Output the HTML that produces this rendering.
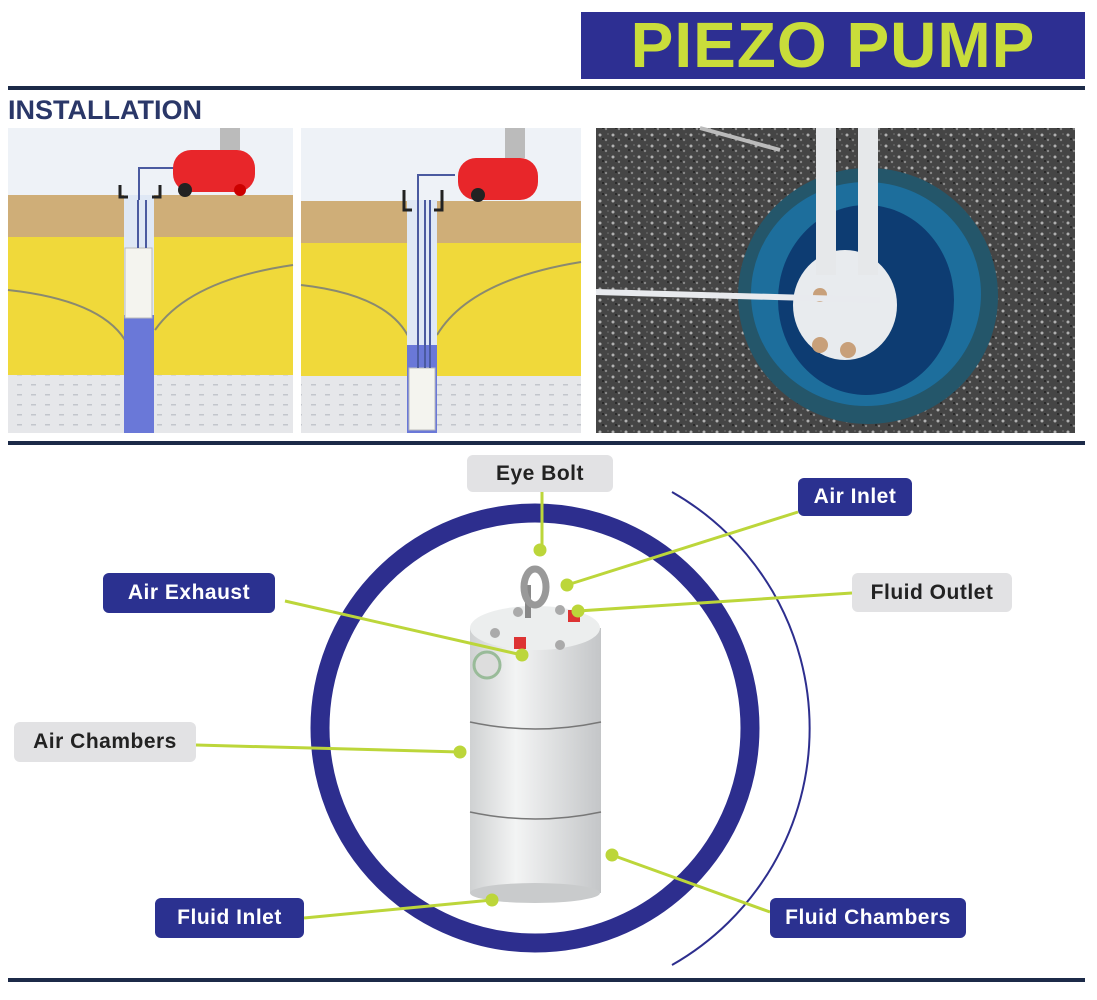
<!DOCTYPE html>
<html><head><meta charset="utf-8"><style>
body{margin:0;width:1097px;height:1000px;background:#fff;position:relative;overflow:hidden;font-family:"Liberation Sans",sans-serif}
.a{position:absolute}
.lbl{position:absolute;border-radius:6px;font-weight:bold;font-size:21px;display:flex;align-items:center;justify-content:center;letter-spacing:0.5px}
.b{background:#2b3190;color:#fff}
.g{background:#e2e2e4;color:#222}
</style></head><body>
<div class="a" style="left:581px;top:12px;width:504px;height:67px;background:#2d2f92;color:#c9dd3a;font-size:64px;font-weight:bold;line-height:67px;text-align:center;letter-spacing:1px">PIEZO PUMP</div>
<div class="a" style="left:8px;top:86px;width:1077px;height:4px;background:#1c2a48"></div>
<div class="a" style="left:8px;top:95px;font-size:27px;font-weight:bold;color:#2a3768">INSTALLATION</div>

<svg class="a" style="left:0;top:0" width="1097" height="1000">
<defs><pattern id="dots" width="14" height="10" patternUnits="userSpaceOnUse"><rect width="14" height="10" fill="#e6e7ea"/><rect x="3" y="4" width="5" height="1.5" fill="#c3c6cc"/></pattern>
<pattern id="sp" width="13" height="11" patternUnits="userSpaceOnUse"><rect width="13" height="11" fill="#454545"/><circle cx="2" cy="3" r="1.5" fill="#b0b0b0"/><circle cx="8" cy="8" r="1.2" fill="#888"/><circle cx="10" cy="2" r="0.9" fill="#6a6a6a"/><rect x="4" y="6" width="2" height="2" fill="#2a2a2a"/></pattern></defs>
<!-- panel 1 -->
<g>
<rect x="8" y="128" width="285" height="305" fill="#eef2f7"/>
<rect x="8" y="195" width="285" height="42" fill="#cfae78"/>
<rect x="8" y="237" width="285" height="138" fill="#f0d93a"/>
<rect x="8" y="375" width="285" height="58" fill="url(#dots)"/>
<path d="M8 290 Q100 300 125 340 M155 330 Q190 280 293 265" stroke="#8a8a70" stroke-width="2" fill="none"/>
<rect x="124" y="195" width="30" height="238" fill="#dfe8f5"/>
<rect x="124" y="315" width="30" height="118" fill="#6a78d8"/>
<rect x="125" y="248" width="27" height="70" fill="#f4f4ef" stroke="#bbb"/>
<path d="M138 248V200M146 248V200M139 200V168H175" stroke="#4a5aa0" stroke-width="2" fill="none"/>
<rect x="173" y="150" width="82" height="42" rx="18" fill="#e8262a"/>
<rect x="220" y="128" width="20" height="22" fill="#bbb"/>
<circle cx="185" cy="190" r="7" fill="#222"/><circle cx="240" cy="190" r="6" fill="#c00"/>
<path d="M120 185v12h8M160 185v12h-8" stroke="#222" stroke-width="3" fill="none"/>
</g>
<!-- panel 2 -->
<g>
<rect x="301" y="128" width="280" height="305" fill="#eef2f7"/>
<rect x="301" y="201" width="280" height="42" fill="#cfae78"/>
<rect x="301" y="243" width="280" height="133" fill="#f0d93a"/>
<rect x="301" y="376" width="280" height="57" fill="url(#dots)"/>
<path d="M301 285 Q390 295 410 340 M437 335 Q470 280 581 262" stroke="#8a8a70" stroke-width="2" fill="none"/>
<rect x="407" y="200" width="30" height="233" fill="#dfe8f5"/>
<rect x="407" y="345" width="30" height="88" fill="#6a78d8"/>
<rect x="409" y="368" width="26" height="62" fill="#f4f4ef" stroke="#bbb"/>
<path d="M418 368V175H455M425 368V200M430 368V200" stroke="#4a5aa0" stroke-width="2" fill="none"/>
<rect x="458" y="158" width="80" height="42" rx="18" fill="#e8262a"/>
<rect x="505" y="128" width="20" height="30" fill="#bbb"/>
<circle cx="478" cy="195" r="7" fill="#222"/>
<path d="M404 190v20h8M442 190v20h-8" stroke="#222" stroke-width="3" fill="none"/>
</g>
<!-- photo -->
<rect x="596" y="128" width="479" height="305" fill="url(#sp)"/>
<ellipse cx="868" cy="296" rx="130" ry="128" fill="#24566a"/>
<ellipse cx="866" cy="294" rx="115" ry="112" fill="#1d6e9c"/>
<ellipse cx="866" cy="300" rx="88" ry="95" fill="#0d3c72"/>
<ellipse cx="845" cy="305" rx="52" ry="55" fill="#e8ebee"/>
<circle cx="820" cy="295" r="7" fill="#c8a07a"/><circle cx="820" cy="345" r="8" fill="#c8a07a"/><circle cx="848" cy="350" r="8" fill="#c8a07a"/>
<path d="M826 128V275M868 128V275" stroke="#e6e8ea" stroke-width="20"/>
<path d="M780 150L700 128" stroke="#bbb" stroke-width="4"/>
<path d="M596 292L880 300" stroke="#e8eaee" stroke-width="6"/>
<!-- lines -->
<rect x="8" y="441" width="1077" height="4" fill="#1c2a48"/>
<rect x="8" y="978" width="1077" height="4" fill="#1c2a48"/>
<!-- rings -->
<circle cx="535" cy="728" r="215" fill="none" stroke="#2d2e8e" stroke-width="19"/>
<path d="M672 492 A272 272 0 0 1 672 965" fill="none" stroke="#2d2e8e" stroke-width="2"/>
<!-- pump -->
<defs><linearGradient id="cy" x1="0" x2="1"><stop offset="0" stop-color="#cfd1d2"/><stop offset="0.35" stop-color="#f3f4f4"/><stop offset="1" stop-color="#c4c6c8"/></linearGradient></defs>
<rect x="470" y="628" width="131" height="265" fill="url(#cy)"/>
<ellipse cx="535" cy="893" rx="65" ry="10" fill="#c9cbcc"/>
<ellipse cx="535" cy="628" rx="65" ry="22" fill="#eceeee"/>
<path d="M470 722q65 14 131 0M470 812q65 14 131 0" stroke="#777" stroke-width="1.5" fill="none"/>
<circle cx="487" cy="665" r="13" fill="#ddd" stroke="#9b9" stroke-width="3"/>
<path d="M528 618V585" stroke="#888" stroke-width="6"/><ellipse cx="535" cy="587" rx="11" ry="18" fill="none" stroke="#999" stroke-width="7"/>
<circle cx="495" cy="633" r="5" fill="#aaa"/><circle cx="560" cy="645" r="5" fill="#aaa"/><circle cx="518" cy="612" r="5" fill="#aaa"/><circle cx="560" cy="610" r="5" fill="#aaa"/>
<rect x="514" y="637" width="12" height="12" fill="#d33"/><rect x="568" y="610" width="12" height="12" fill="#d33"/>
<!-- connectors -->
<g stroke="#bcd63a" stroke-width="3" fill="#bcd63a">
<path d="M542 492V550"/><circle cx="540" cy="550" r="5"/>
<path d="M798 512L567 585"/><circle cx="567" cy="585" r="5"/>
<path d="M852 593L578 611"/><circle cx="578" cy="611" r="5"/>
<path d="M285 601L522 655"/><circle cx="522" cy="655" r="5"/>
<path d="M196 745L460 752"/><circle cx="460" cy="752" r="5"/>
<path d="M304 918L492 900"/><circle cx="492" cy="900" r="5"/>
<path d="M770 912L612 855"/><circle cx="612" cy="855" r="5"/>
</g>
</svg>
<div class="lbl g" style="left:467px;top:455px;width:146px;height:37px">Eye Bolt</div>
<div class="lbl b" style="left:798px;top:478px;width:114px;height:38px">Air Inlet</div>
<div class="lbl g" style="left:852px;top:573px;width:160px;height:39px">Fluid Outlet</div>
<div class="lbl b" style="left:103px;top:573px;width:172px;height:40px">Air Exhaust</div>
<div class="lbl g" style="left:14px;top:722px;width:182px;height:40px">Air Chambers</div>
<div class="lbl b" style="left:155px;top:898px;width:149px;height:40px">Fluid Inlet</div>
<div class="lbl b" style="left:770px;top:898px;width:196px;height:40px">Fluid Chambers</div>
</body></html>
